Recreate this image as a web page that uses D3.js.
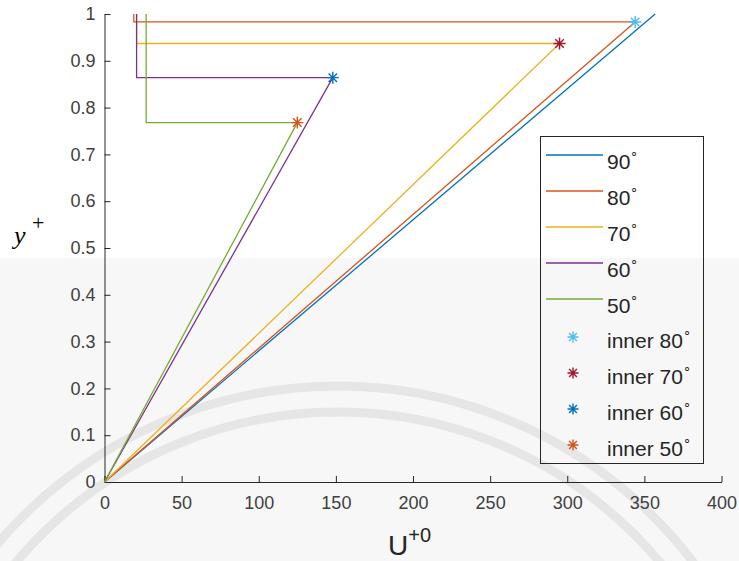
<!DOCTYPE html>
<html>
<head>
<meta charset="utf-8">
<script src="https://cdn.jsdelivr.net/npm/d3@7"></script>
<style>
  body { margin: 0; background: #fff; }
  svg text { font-family: "Liberation Sans", Arial, sans-serif; }
</style>
</head>
<body>
<div id="chart"></div>
<script>
// series: ramp from origin to the tip, then back left and up to y+ = 1
var angles = [90, 80, 70, 60, 50];
var lineColors = ["#0072BD", "#D95319", "#EDB120", "#7E2F8E", "#77AC30"];
var tipU = [357, 344, 295, 148, 125];
var tipY = [1, 0.983, 0.937, 0.864, 0.768];
var stepU = [null, 19, 20.8, 20.8, 27];

// inner points (stars)
var innerAngles = [80, 70, 60, 50];
var innerColors = ["#4DBEEE", "#A2142F", "#0072BD", "#D95319"];
var innerU = [344, 295, 148, 125];
var innerY = [0.983, 0.937, 0.864, 0.768];

var xTicks = [0, 50, 100, 150, 200, 250, 300, 350, 400];
var yTicks = [0, 0.1, 0.2, 0.3, 0.4, 0.5, 0.6, 0.7, 0.8, 0.9, 1];

var width = 739, height = 561;
var axisColor = "#262626", labelColor = "#404040";

var x = d3.scaleLinear().domain([0, 400]).range([104.5, 721.5]);
var y = d3.scaleLinear().domain([0, 1]).range([482, 14]);

var svg = d3.select("#chart").append("svg")
    .attr("width", width)
    .attr("height", height);

// faint watermark behind the plot
var wm = svg.append("g");
wm.append("rect").attr("x", 0).attr("y", 258).attr("width", width).attr("height", height - 258)
    .attr("fill", "#f7f7f7");
[446, 420].forEach(function (r) {
    wm.append("circle").attr("cx", 338).attr("cy", 832).attr("r", r)
        .attr("fill", "none").attr("stroke", "#e6e6e6").attr("stroke-width", 9);
});

// axes
var xAxis = d3.axisBottom(x).tickValues(xTicks).tickSize(-6).tickSizeOuter(0).tickPadding(14);
var yAxis = d3.axisLeft(y).tickValues(yTicks).tickSize(-6).tickSizeOuter(0).tickPadding(9)
    .tickFormat(function (d) { return d === 0 || d === 1 ? d : d.toFixed(1); });

var gx = svg.append("g").attr("transform", "translate(0," + y(0) + ")").call(xAxis);
var gy = svg.append("g").attr("transform", "translate(" + x(0) + ",0)").call(yAxis);
[gx, gy].forEach(function (g) {
    g.select(".domain").attr("stroke", axisColor);
    g.selectAll(".tick line").attr("stroke", axisColor);
    g.selectAll(".tick text").attr("fill", labelColor).attr("font-size", 18)
        .attr("font-family", "Liberation Sans, Arial, sans-serif");
});
gx.selectAll(".tick text").attr("dy", "0.71em");

// lines
var line = d3.line().x(function (d) { return x(d[0]); }).y(function (d) { return y(d[1]); });
var lineData = angles.map(function (a, i) {
    var pts = [[0, 0], [tipU[i], tipY[i]]];
    if (stepU[i] !== null) pts.push([stepU[i], tipY[i]], [stepU[i], 1]);
    return pts;
});
svg.append("g").selectAll("path").data(lineData).enter().append("path")
    .attr("d", line)
    .attr("fill", "none")
    .attr("stroke", function (d, i) { return lineColors[i]; })
    .attr("stroke-width", 1.3)
    .attr("stroke-linejoin", "round");

// star marker like matlab '*'
function starPath(r) {
    var p = "";
    [0, 45, 90, 135].forEach(function (deg) {
        var a = deg * Math.PI / 180;
        p += "M" + (-r * Math.cos(a)) + "," + (-r * Math.sin(a)) + "L" + (r * Math.cos(a)) + "," + (r * Math.sin(a));
    });
    return p;
}

svg.append("g").selectAll("path").data(innerAngles).enter().append("path")
    .attr("d", starPath(6))
    .attr("transform", function (d, i) { return "translate(" + x(innerU[i]) + "," + y(innerY[i]) + ")"; })
    .attr("stroke", function (d, i) { return innerColors[i]; })
    .attr("stroke-width", 1.4)
    .attr("fill", "none");

// legend
var legend = svg.append("g");
legend.append("rect").attr("x", 540.5).attr("y", 136.5).attr("width", 163).attr("height", 327)
    .attr("fill", "none").attr("stroke", axisColor).attr("stroke-width", 1);

function degText(sel, txt) {
    sel.append("tspan").text(txt);
    sel.append("tspan").attr("font-size", 13).attr("dy", -12).text("\u2218");
}

angles.forEach(function (a, i) {
    var ry = 155 + i * 36;
    legend.append("line").attr("x1", 546).attr("x2", 603).attr("y1", ry).attr("y2", ry)
        .attr("stroke", lineColors[i]).attr("stroke-width", 1.3);
    var t = legend.append("text").attr("x", 607).attr("y", ry + 14).attr("font-size", 21).attr("fill", "#262626");
    degText(t, String(a));
});
innerAngles.forEach(function (a, i) {
    var ry = 337 + i * 36;
    legend.append("path").attr("d", starPath(5.5))
        .attr("transform", "translate(573," + ry + ")")
        .attr("stroke", innerColors[i]).attr("stroke-width", 1.4);
    var t = legend.append("text").attr("x", 607).attr("y", ry + 11).attr("font-size", 21).attr("fill", "#262626");
    degText(t, "inner " + a);
});

// axis labels
var xl = svg.append("text").attr("x", 388).attr("y", 555).attr("fill", "#262626").attr("font-size", 28);
xl.append("tspan").text("U");
xl.append("tspan").attr("font-size", 20).attr("dy", -13).text("+0");

svg.append("text").attr("x", 14).attr("y", 244)
    .style("font-family", "'Liberation Serif', 'Times New Roman', serif")
    .attr("font-style", "italic").attr("font-size", 26).attr("fill", "#000").text("y");
svg.append("text").attr("x", 32).attr("y", 230)
    .style("font-family", "'Liberation Serif', 'Times New Roman', serif")
    .attr("font-size", 22).attr("fill", "#000").text("+");
</script>
</body>
</html>
